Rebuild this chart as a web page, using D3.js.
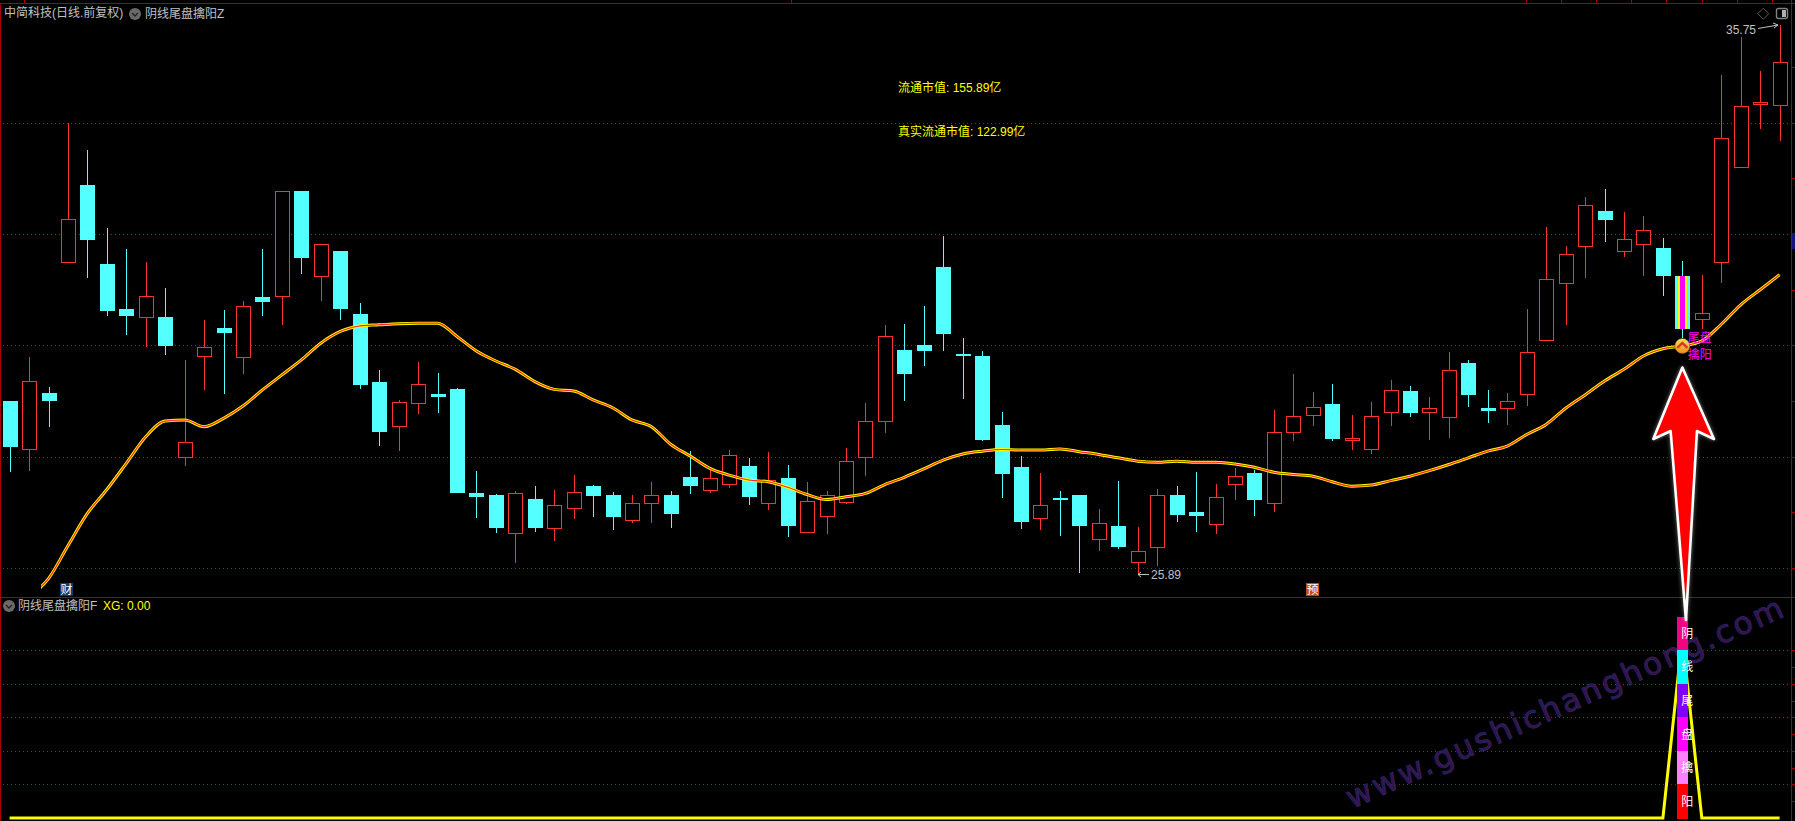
<!DOCTYPE html>
<html>
<head>
<meta charset="utf-8">
<script src="https://cdn.jsdelivr.net/npm/d3@7/dist/d3.min.js"></script>
<style>
html,body{margin:0;padding:0;background:#000;overflow:hidden}
svg{display:block}
text{font-family:"Liberation Sans","Noto Sans CJK SC",sans-serif;font-size:12px}
</style>
</head>
<body>
<svg id="c" width="1795" height="821"></svg>
<script>
const opens=[29.00,28.14,29.14,31.50,32.88,31.46,30.65,30.51,30.51,27.99,
29.80,30.31,29.80,30.87,30.88,32.77,31.25,31.70,30.56,29.34,
28.54,28.95,29.13,29.22,27.35,27.31,26.62,27.24,26.71,27.08,
27.47,27.31,26.85,27.17,27.31,27.64,27.39,27.50,27.83,27.17,
27.62,26.65,26.94,27.19,28.00,28.63,29.92,30.01,31.41,29.85,
29.81,28.57,27.81,26.89,27.26,27.31,26.51,26.75,26.11,26.38,
27.31,27.01,26.78,27.50,27.71,27.16,28.45,28.74,28.95,28.29,
28.14,28.79,29.18,28.79,28.70,29.68,28.88,28.88,29.13,30.10,
31.11,31.79,32.42,31.70,31.81,31.75,31.25,30.48,31.50,33.21,
34.34,34.31];
const closes=[28.18,29.36,28.99,32.27,31.89,30.62,30.52,30.88,29.99,28.26,
29.97,30.22,30.71,30.78,32.77,31.56,31.82,30.65,29.29,28.44,
28.98,29.30,29.07,27.35,27.28,26.72,27.34,26.72,27.13,27.36,
27.29,26.92,27.16,27.32,26.97,27.47,27.61,28.03,27.28,27.59,
26.75,27.20,27.31,27.92,28.64,30.16,29.49,29.90,30.21,29.81,
28.30,27.69,26.83,27.13,27.24,26.75,26.80,26.38,26.30,27.32,
26.95,26.93,27.27,27.65,27.22,28.44,28.74,28.89,28.32,28.33,
28.73,29.19,28.79,28.87,29.55,29.11,28.82,29.00,29.88,31.19,
31.64,32.52,32.25,31.91,32.07,31.25,30.29,30.59,33.72,34.31,
34.37,35.09];
const highs=[29.00,29.79,29.25,34.00,33.51,32.11,31.73,31.50,31.03,29.74,
30.46,30.64,30.79,31.73,32.77,32.77,31.82,31.70,30.76,29.56,
29.02,29.70,29.50,29.23,27.74,27.33,27.38,27.47,27.40,27.67,
27.49,27.37,27.31,27.55,27.38,28.10,27.77,28.12,27.98,28.08,
27.85,27.55,27.38,28.16,28.97,30.37,30.38,30.71,31.97,30.13,
29.90,28.80,28.01,27.71,27.38,27.31,27.06,27.56,26.74,27.42,
27.47,27.73,27.51,27.80,27.76,28.84,29.49,29.16,29.31,28.75,
28.98,29.38,29.27,29.07,29.88,29.74,29.20,29.14,30.65,32.13,
31.79,32.67,32.81,32.40,32.33,31.93,31.52,31.27,34.86,35.54,
34.93,35.75];
const lows=[27.73,27.75,28.54,31.50,31.22,30.53,30.19,29.98,29.83,27.84,
29.19,29.13,29.49,30.52,30.37,31.28,30.80,30.46,29.22,28.19,
28.10,28.77,28.79,27.35,26.90,26.63,26.09,26.65,26.49,26.88,
26.92,26.68,26.81,26.81,26.72,27.33,27.35,27.44,27.13,27.04,
26.56,26.65,26.61,27.15,27.65,28.43,29.00,29.63,29.90,29.04,
28.28,27.26,26.70,26.68,26.58,25.91,26.31,26.34,25.89,26.04,
26.83,26.65,26.61,27.22,26.93,27.01,28.28,28.55,28.28,28.12,
28.05,28.55,28.71,28.30,28.34,28.89,28.61,28.57,28.91,30.08,
30.37,31.21,31.86,31.59,31.25,30.89,30.13,30.29,31.12,33.21,
33.89,33.67];
const maValues=[null,25.48,25.81,26.40,26.98,27.41,27.88,28.36,28.64,28.66,
28.54,28.69,28.91,29.20,29.47,29.74,30.04,30.25,30.35,30.37,
30.39,30.40,30.40,30.16,29.90,29.72,29.57,29.35,29.21,29.18,
29.02,28.88,28.66,28.54,28.22,28.01,27.79,27.67,27.58,27.55,
27.45,27.32,27.23,27.28,27.34,27.50,27.63,27.78,27.94,28.05,
28.10,28.13,28.12,28.12,28.14,28.09,28.04,27.98,27.92,27.90,
27.92,27.90,27.90,27.87,27.81,27.72,27.68,27.65,27.55,27.47,
27.49,27.57,27.65,27.75,27.86,27.98,28.10,28.19,28.40,28.58,
28.87,29.11,29.36,29.57,29.81,29.94,29.99,30.08,30.38,30.73,
31.00,31.27];
const signalIndex=86, xgPeak=1.08;
const xgValues=opens.map((d,i)=>i===signalIndex?xgPeak:0);
const priceTicks=[26,28,30,32,34];
const priceMinorTicks=[26,27,28,29,30,31,32,33,34,35];
const subTicks=[0.2,0.4,0.6,0.8,1];
const subMinorTicks=[0.1,0.2,0.3,0.4,0.5,0.6,0.7,0.8,0.9,1];
const stackChars=["阴","线","尾","盘","擒","阳"];
const stackColors=["#f0047f","#00ffff","#7f00ff","#ff00ff","#ff80ff","#ff0000"];
const stackLevels=[1.2,1.0,0.8,0.6,0.4,0.2];
const titleMain="中简科技(日线.前复权)", titleInd="阴线尾盘擒阳Z", titleSub="阴线尾盘擒阳F";
const infoLines=["流通市值: 155.89亿","真实流通市值: 122.99亿"];

const W=1795,H=821,R=1791;
const RED="#ff3232",CYAN="#54ffff",FRAME="#a80000",GRIDC="#d00000",GREY="#c0c0c0";
const x=d3.scaleLinear().domain([0,91]).range([9.6,1779.6]);
const y=d3.scaleLinear().domain([26,34]).range([568,122.8]);
const y2=d3.scaleLinear().domain([0,1]).range([818,650.4]);
const svg=d3.select("#c");
const defs=svg.append("defs");
const glow=defs.append("filter").attr("id","glow").attr("x","-30%").attr("y","-10%").attr("width","160%").attr("height","120%");
glow.append("feDropShadow").attr("dx",0).attr("dy",0).attr("stdDeviation",2).attr("flood-color","#fff").attr("flood-opacity",0.45);
const grad=defs.append("linearGradient").attr("id","gold").attr("x1",0).attr("y1",0).attr("x2",0).attr("y2",1);
grad.append("stop").attr("offset","0%").attr("stop-color","#f8e060");
grad.append("stop").attr("offset","100%").attr("stop-color","#f58a1c");
defs.append("clipPath").attr("id","maClip").append("rect").attr("x",41).attr("y",0).attr("width",W).attr("height",597);

svg.append("rect").attr("width",W).attr("height",H).attr("fill","#000");

// grids through axes
function grid(scale,vals){
  const ax=d3.axisLeft(scale).tickValues(vals).tickSize(-(R-3)).tickFormat("");
  const s=svg.append("g").attr("transform","translate(3,0)").call(ax);
  s.select(".domain").remove();
  s.selectAll("line").attr("stroke",GRIDC).attr("stroke-dasharray","1 3").attr("shape-rendering","crispEdges");
}
grid(y,priceTicks);grid(y2,subTicks);
function rightTicks(scale,vals){
  const s=svg.append("g").attr("transform",`translate(${R},0)`).call(d3.axisRight(scale).tickValues(vals).tickSize(4).tickFormat(""));
  s.select(".domain").remove();
  s.selectAll("line").attr("stroke",FRAME).attr("shape-rendering","crispEdges");
}
rightTicks(y,priceMinorTicks);rightTicks(y2,subMinorTicks);

// frame
const frame=svg.append("g").attr("stroke",FRAME).attr("shape-rendering","crispEdges");
frame.append("line").attr("x1",0).attr("x2",W).attr("y1",3.5).attr("y2",3.5);
frame.append("line").attr("x1",0).attr("x2",W).attr("y1",597.5).attr("y2",597.5);
frame.append("line").attr("x1",0.5).attr("x2",0.5).attr("y1",3).attr("y2",H);
frame.append("line").attr("x1",R+.5).attr("x2",R+.5).attr("y1",0).attr("y2",H);
[24,791].concat(d3.range(8).map(k=>1526+k*35.1)).forEach(t=>{
  frame.append("line").attr("x1",Math.round(t)+.5).attr("x2",Math.round(t)+.5).attr("y1",0).attr("y2",3);
});

// watermark
svg.append("text").attr("transform","translate(1352,809) rotate(-24)")
  .attr("fill","#3d1046").attr("stroke","#242465").attr("stroke-width",0.9)
  .style("font-family","'DejaVu Sans'").style("font-size","31px").style("letter-spacing","2.8px")
  .text("www.gushichanghong.com");

// candles
const data=opens.map((o,i)=>({i,o,c:closes[i],h:highs[i],l:lows[i]}));
const cg=svg.append("g").attr("shape-rendering","crispEdges");
data.forEach(d=>{
  const up=d.c>=d.o, col=up?RED:CYAN, cx=Math.round(x(d.i))+.5;
  const top=y(Math.max(d.o,d.c)), bot=y(Math.min(d.o,d.c));
  cg.append("line").attr("x1",cx).attr("x2",cx).attr("y1",y(d.h)).attr("y2",y(d.l)).attr("stroke",col);
  if(up){
    cg.append("rect").attr("x",cx-7).attr("y",Math.round(top)+.5).attr("width",14).attr("height",Math.max(1,Math.round(bot-top)))
      .attr("fill","#000").attr("stroke",col);
  }else{
    cg.append("rect").attr("x",cx-7.5).attr("y",Math.round(top)).attr("width",15).attr("height",Math.max(2,Math.round(bot-top)))
      .attr("fill",col);
  }
});
// signal candle layers
const sd=data[signalIndex], sx=Math.round(x(signalIndex))+.5, st=y(sd.o), sb=y(sd.c);
[[15,CYAN,-1.5],[9,"#ffff00",0],[5,"#ff00ff",0]].forEach(([w,c,db])=>{
  cg.append("rect").attr("x",sx-w/2).attr("y",Math.round(st)).attr("width",w).attr("height",Math.round(sb-st+db)).attr("fill",c);
});

// MA line
const maLine=d3.line().defined(d=>d!=null).x((d,i)=>x(i)).y(d=>y(d)).curve(d3.curveMonotoneX);
const mg=svg.append("g").attr("clip-path","url(#maClip)").attr("fill","none").attr("stroke-linejoin","round");
mg.append("path").attr("d",maLine(maValues)).attr("stroke","#ffff00").attr("stroke-width",3);
mg.append("path").attr("d",maLine(maValues)).attr("stroke","#ff2020").attr("stroke-width",1.1);

// signal marker and labels
const mx=x(signalIndex), my=y(maValues[signalIndex]);
svg.append("circle").attr("cx",mx).attr("cy",my).attr("r",7.5).attr("fill","url(#gold)").attr("stroke","#7a5a20").attr("stroke-width",0.5);
svg.append("path").attr("d",`M${mx-5},${my+2}L${mx},${my-3}L${mx+5},${my+2}`).attr("fill","none").attr("stroke","#d83a1a").attr("stroke-width",2.4);
svg.append("text").attr("x",mx+5.5).attr("y",my-8).attr("dy","0.36em").attr("fill","#ff00ff").text("尾盘");
svg.append("text").attr("x",mx+5.5).attr("y",my+9).attr("dy","0.36em").attr("fill","#ff00ff").text("擒阳");

// sub-panel line
const xgLine=d3.line().x((d,i)=>x(i)).y(d=>y2(d));
svg.append("path").attr("d",xgLine(xgValues)).attr("fill","none").attr("stroke","#ffff00").attr("stroke-width",3).attr("stroke-linejoin","miter");

// stacked column
stackChars.forEach((ch,k)=>{
  const top=y2(stackLevels[k]), bot=y2(stackLevels[k]-0.2);
  svg.append("rect").attr("x",mx-5.5).attr("y",top).attr("width",11).attr("height",bot-top+.5).attr("fill",stackColors[k]).attr("shape-rendering","crispEdges");
  svg.append("text").attr("x",mx-1).attr("y",(top+bot)/2).attr("dy","0.36em").attr("fill","#fff").text(ch);
});

// big arrow
const ax0=mx, arrowPts=[[0,367.5],[31.6,439],[14.6,431],[3.6,620],[-11.7,431],[-29,439]];
svg.append("path").attr("d",d3.line().x(p=>ax0+p[0]).y(p=>p[1]).curve(d3.curveLinearClosed)(arrowPts))
  .attr("fill","#ff0000").attr("stroke","#fff").attr("stroke-width",2.6).attr("stroke-linejoin","round").attr("filter","url(#glow)");

// titles
function icon(cx,cy){
  svg.append("circle").attr("cx",cx).attr("cy",cy).attr("r",6).attr("fill","#6a6a6a");
  svg.append("path").attr("d",`M${cx-3},${cy-1}L${cx},${cy+2}L${cx+3},${cy-1}`).attr("fill","none").attr("stroke","#222").attr("stroke-width",1.4);
}
svg.append("text").attr("x",4).attr("y",13).attr("dy","0.36em").attr("fill",GREY).text(titleMain);
icon(135,14);
svg.append("text").attr("x",145).attr("y",14).attr("dy","0.36em").attr("fill",GREY).text(titleInd);
icon(9,606);
svg.append("text").attr("x",18).attr("y",606).attr("dy","0.36em").attr("fill",GREY).text(titleSub);
svg.append("text").attr("x",103).attr("y",606).attr("dy","0.36em").attr("fill","#ffff00").text("XG: 0.00");
svg.append("text").attr("x",898).attr("y",88).attr("dy","0.36em").attr("fill","#ffff00").text(infoLines[0]);
svg.append("text").attr("x",898).attr("y",132).attr("dy","0.36em").attr("fill","#ffff00").text(infoLines[1]);

// extreme labels
svg.append("text").attr("x",1726).attr("y",30).attr("dy","0.36em").attr("fill",GREY).text(highs[91].toFixed(2));
svg.append("path").attr("d","M1758,28.5L1778,25M1773,23L1778,25L1774,28").attr("fill","none").attr("stroke",GREY);
svg.append("text").attr("x",1151).attr("y",575).attr("dy","0.36em").attr("fill",GREY).text(lows[58].toFixed(2));
svg.append("path").attr("d","M1149,574.5L1138,574.5M1141,572L1138,574.5L1141,577").attr("fill","none").attr("stroke",GREY);

// tags
function tag(tx,ch,bg){
  svg.append("rect").attr("x",tx).attr("y",583).attr("width",13).attr("height",13).attr("fill",bg);
  svg.append("text").attr("x",tx+.5).attr("y",589.5).attr("dy","0.36em").attr("fill","#fff").text(ch);
}
tag(60,"财","#0e3b6c");
tag(1306,"预","#c04a12");
svg.append("rect").attr("x",1792).attr("y",233).attr("width",3).attr("height",16).attr("fill","#14147a");

// top-right icons
svg.append("path").attr("d","M1763.3,8.2L1768.8,13.7L1763.3,19.2L1757.8,13.7Z").attr("fill","none").attr("stroke","#5a5a5a");
svg.append("rect").attr("x",1776.5).attr("y",8.5).attr("width",11).attr("height",10).attr("rx",2).attr("fill","none").attr("stroke","#808080").attr("stroke-width",1.4);
svg.append("rect").attr("x",1782).attr("y",10).attr("width",4).attr("height",7).attr("fill","#b0b0b0");
</script>
</body>
</html>
